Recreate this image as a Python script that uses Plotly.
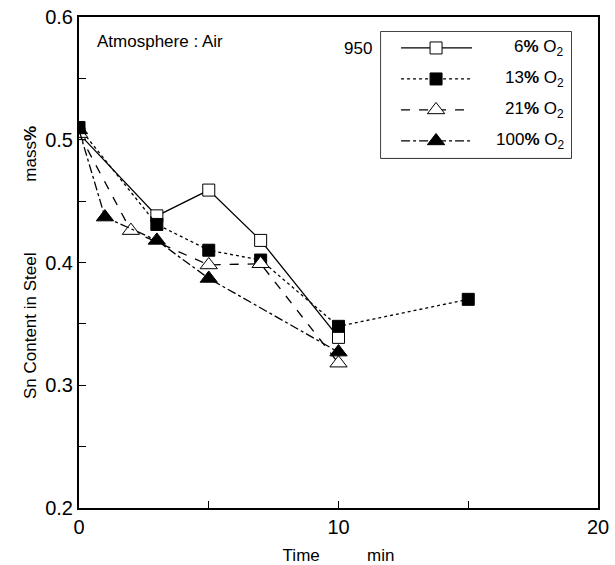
import plotly.graph_objects as go

# Data
time_6 = [0, 3, 5, 7, 10]
sn_6 = [0.505, 0.438, 0.459, 0.418, 0.339]

time_13 = [0, 3, 5, 7, 10, 15]
sn_13 = [0.510, 0.431, 0.410, 0.402, 0.348, 0.370]

time_21 = [0, 2, 5, 7, 10]
sn_21 = [0.505, 0.426, 0.398, 0.399, 0.318]

time_100 = [0, 1, 3, 5, 10]
sn_100 = [0.508, 0.437, 0.418, 0.387, 0.327]

labels = ["6<b>%</b> O<sub>2</sub>", "13<b>%</b> O<sub>2</sub>",
          "21<b>%</b> O<sub>2</sub>", "100<b>%</b> O<sub>2</sub>"]

x_ticks = [0, 10, 20]
y_ticks = [0.2, 0.3, 0.4, 0.5, 0.6]

FONT = "Liberation Sans, Arial, sans-serif"

styles = [
    ("solid", "square", "white", 12),
    ("dot", "square", "black", 12),
    ("dash", "triangle-up", "white", 15),
    ("dashdot", "triangle-up", "black", 15),
]
data = [(time_6, sn_6), (time_13, sn_13), (time_21, sn_21), (time_100, sn_100)]

fig = go.Figure()
for (x, y), (dash, sym, fill, size), name in zip(data, styles, labels):
    fig.add_trace(go.Scatter(
        x=x, y=y, mode="lines+markers", name=name, showlegend=False,
        line=dict(color="black", width=1.3, dash=dash),
        marker=dict(symbol=sym, size=size, color=fill,
                    line=dict(color="black", width=1)),
    ))

# Custom legend drawn on a hidden helper axis laid over the legend box
LEG_X0, LEG_X1, LEG_Y0, LEG_Y1 = 0.582, 0.948, 0.713, 0.9695
row_gap = 31
for i, ((dash, sym, fill, size), name) in enumerate(zip(styles, labels)):
    ry = 16 + i * row_gap
    fig.add_trace(go.Scatter(
        x=[20, 55, 91], y=[ry, ry, ry], xaxis="x2", yaxis="y2",
        mode="lines", showlegend=False, hoverinfo="skip",
        line=dict(color="black", width=1.3, dash=dash),
    ))
    fig.add_trace(go.Scatter(
        x=[55], y=[ry], xaxis="x2", yaxis="y2",
        mode="markers", showlegend=False, hoverinfo="skip",
        marker=dict(symbol=sym, size=size, color=fill,
                    line=dict(color="black", width=1)),
    ))
    fig.add_annotation(text=name, xref="x2", yref="y2", x=185, y=ry,
                       xanchor="right", yanchor="middle", showarrow=False,
                       font=dict(family=FONT, size=17, color="black"))

fig.add_shape(type="rect", xref="paper", yref="paper",
              x0=LEG_X0, x1=LEG_X1, y0=LEG_Y0, y1=LEG_Y1,
              line=dict(color="black", width=1.5), layer="below")

axis_common = dict(
    showline=True, linecolor="black", linewidth=2, mirror=True,
    ticks="inside", ticklen=7, tickcolor="black", tickwidth=1,
    showgrid=False, zeroline=False, automargin=False,
    tickfont=dict(family=FONT, size=20, color="black"),
)

fig.update_xaxes(range=[0, 20], tickvals=x_ticks,
                 minor=dict(tickvals=[5, 15], ticks="inside", ticklen=7,
                            tickcolor="black"),
                 title=dict(text="Time          min",
                            font=dict(family=FONT, size=17, color="black"),
                            standoff=13),
                 **axis_common)
fig.update_yaxes(range=[0.2, 0.6], tickvals=y_ticks,
                 ticktext=[f"{v:.1f}" for v in y_ticks],
                 minor=dict(tickvals=[0.25, 0.35, 0.45, 0.55], ticks="inside",
                            ticklen=7, tickcolor="black"),
                 title=dict(text="Sn Content in Steel               mass<b>%</b>",
                            font=dict(family=FONT, size=17, color="black"),
                            standoff=4),
                 **axis_common)

fig.add_annotation(text="Atmosphere : Air", xref="paper", yref="paper",
                   x=0.031, y=0.95, xanchor="left", yanchor="middle",
                   showarrow=False,
                   font=dict(family=FONT, size=17, color="black"))
fig.add_annotation(text="950", xref="paper", yref="paper",
                   x=0.537, y=0.935, xanchor="center", yanchor="middle",
                   showarrow=False,
                   font=dict(family=FONT, size=17, color="black"))

fig.update_layout(
    width=615, height=565,
    margin=dict(l=79, r=17, t=17, b=57),
    paper_bgcolor="white", plot_bgcolor="white",
    showlegend=False,
    xaxis2=dict(domain=[LEG_X0, LEG_X1], range=[0, 190], visible=False,
                anchor="y2", fixedrange=True),
    yaxis2=dict(domain=[LEG_Y0, LEG_Y1], range=[126, 0], visible=False,
                anchor="x2", fixedrange=True),
)

fig.write_html("out.html")
